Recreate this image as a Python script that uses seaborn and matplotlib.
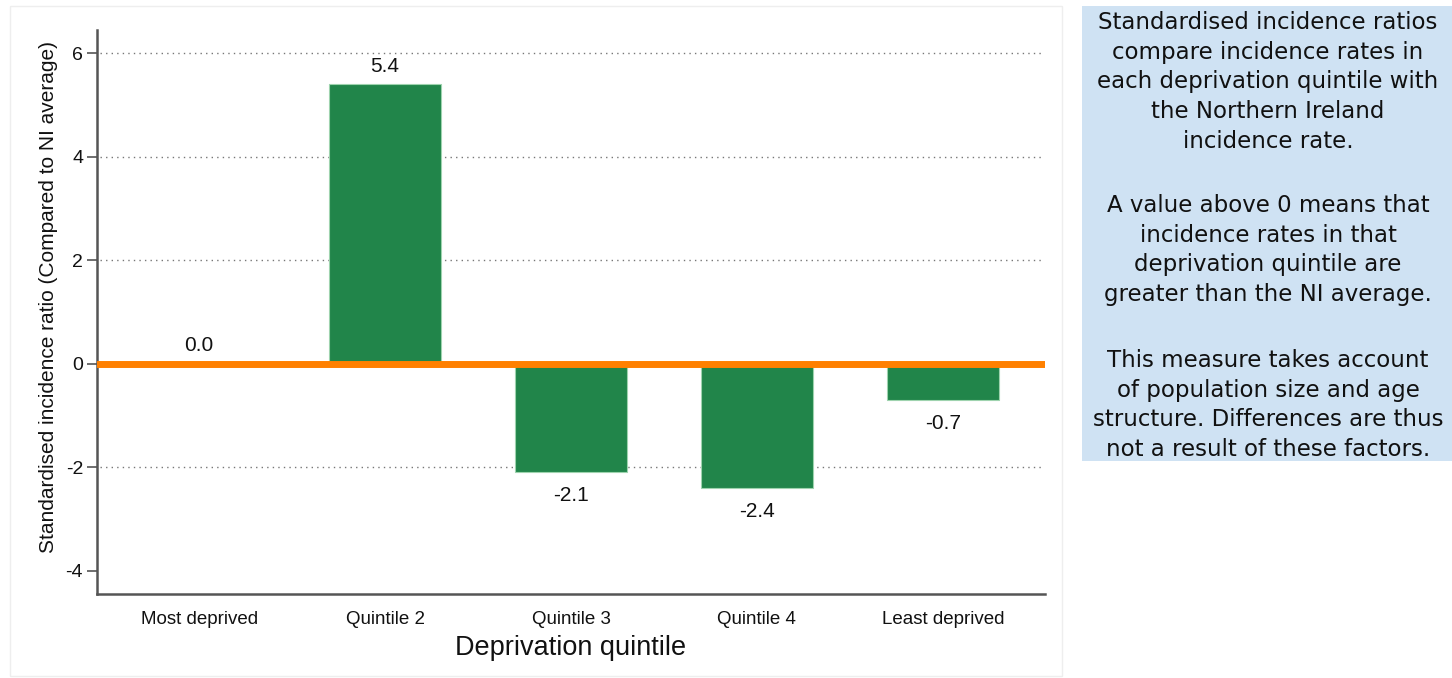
import matplotlib
matplotlib.use("Agg")
import matplotlib.pyplot as plt
from matplotlib.patches import Rectangle
import seaborn as sns
import pandas as pd

# Standardised incidence ratios by deprivation quintile
quintiles = ["Most deprived", "Quintile 2", "Quintile 3", "Quintile 4", "Least deprived"]
sir_values = [0.0, 5.4, -2.1, -2.4, -0.7]
y_ticks = [-4, -2, 0, 2, 4, 6]
grid_levels = [-2, 2, 4, 6]

note_paragraphs = [
    "Standardised incidence ratios\ncompare incidence rates in\neach deprivation quintile with\nthe Northern Ireland\nincidence rate.",
    "A value above 0 means that\nincidence rates in that\ndeprivation quintile are\ngreater than the NI average.",
    "This measure takes account\nof population size and age\nstructure. Differences are thus\nnot a result of these factors.",
]

BAR_GREEN = "#21854A"
LINE_ORANGE = "#FF8000"
BOX_BLUE = "#CFE2F3"
AXIS_GREY = "#555555"

sns.set_theme(style="white")
plt.rcParams["font.family"] = ["Liberation Sans", "DejaVu Sans"]

df = pd.DataFrame({"quintile": quintiles, "sir": sir_values})

fig = plt.figure(figsize=(14.52, 6.78), dpi=100)
ax = fig.add_axes([0.0668, 0.1239, 0.6529, 0.8319])

# faint frame around the chart area
fig.patches.append(Rectangle((10 / 1452, 2 / 678), 1052 / 1452, 670 / 678,
                             transform=fig.transFigure, fill=False,
                             edgecolor="#EEEEEE", linewidth=1, zorder=0))

sns.barplot(data=df, x="quintile", y="sir", color=BAR_GREEN, width=0.6,
            edgecolor="#9ED3AE", linewidth=0.8, saturation=1, ax=ax, zorder=3)

# dotted reference lines
for t in grid_levels:
    ax.axhline(t, color="#777777", linestyle=(0, (1, 3)), linewidth=1.0,
               xmin=0.003, xmax=0.996, zorder=1)

# NI average line
ax.axhline(0, color=LINE_ORANGE, linewidth=5, zorder=4)

# value labels
for i, v in enumerate(sir_values):
    if v >= 0:
        ax.annotate(f"{v:.1f}", xy=(i, v), xytext=(0, 6), textcoords="offset points",
                    ha="center", va="bottom", fontsize=15, color="#111111", zorder=5)
    else:
        ax.annotate(f"{v:.1f}", xy=(i, v), xytext=(0, -10), textcoords="offset points",
                    ha="center", va="top", fontsize=15, color="#111111", zorder=5)

ax.set_xlim(-0.55, 4.55)
ax.set_ylim(-4.45, 6.45)
ax.set_yticks(y_ticks)
ax.set_yticklabels([str(t) for t in y_ticks])

for side in ["top", "right"]:
    ax.spines[side].set_visible(False)
for side in ["left", "bottom"]:
    ax.spines[side].set_color(AXIS_GREY)
    ax.spines[side].set_linewidth(1.8)

ax.tick_params(axis="y", length=7, width=1.2, color=AXIS_GREY, labelsize=14,
               labelcolor="#111111", pad=3, left=True)
ax.tick_params(axis="x", length=0, labelsize=13.5, labelcolor="#111111", pad=12)

ax.set_xlabel("Deprivation quintile", fontsize=19.5, color="#111111", labelpad=5)
ax.set_ylabel("Standardised incidence ratio (Compared to NI average)",
              fontsize=15, color="#111111")
ax.yaxis.set_label_coords(-0.041, 0.527)

# explanatory note box
fig.patches.append(Rectangle((1082 / 1452, 1 - 461 / 678), 370 / 1452, 455 / 678,
                             transform=fig.transFigure, facecolor=BOX_BLUE,
                             edgecolor="none", zorder=0))
para_tops = [11, 194, 349]
for top, para in zip(para_tops, note_paragraphs):
    fig.text(1268 / 1452, 1 - top / 678, para, ha="center", va="top",
             fontsize=16.5, linespacing=1.37, color="#111111",
             family=["DejaVu Sans"])

fig.savefig("out.png", dpi=100, facecolor="white")
